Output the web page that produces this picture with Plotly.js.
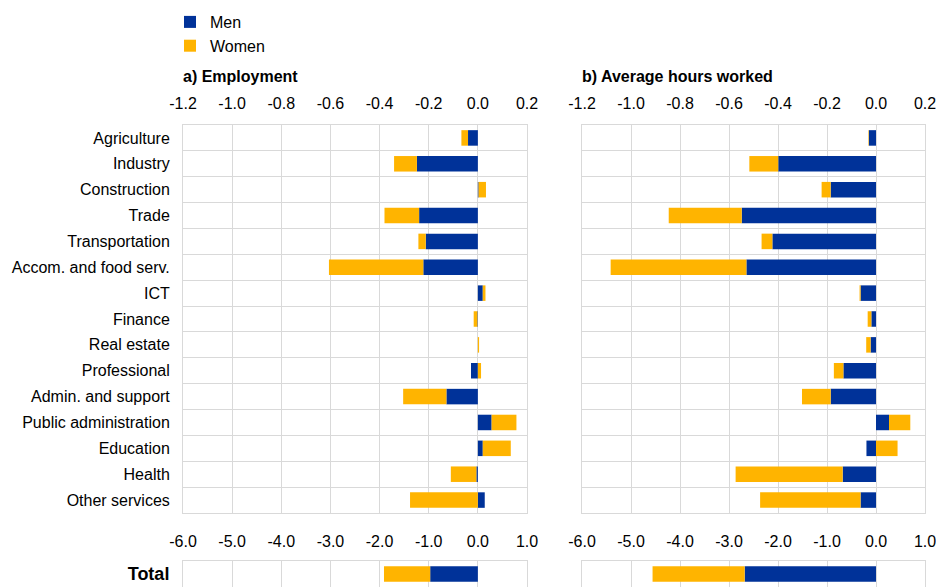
<!DOCTYPE html>
<html>
<head>
<meta charset="utf-8">
<script src="https://cdn.plot.ly/plotly-3.0.1.min.js"></script>
<style>html,body{margin:0;padding:0;background:#fff;}#chart{width:936px;height:587px;}</style>
</head>
<body>
<div id="chart"></div>
<script>
// Categories (sectors)
const sectors = ["Agriculture","Industry","Construction","Trade","Transportation","Accom. and food serv.","ICT","Finance","Real estate","Professional","Admin. and support","Public administration","Education","Health","Other services"];
// a) Employment, contributions (pp)
const empMen   = [-0.04,-0.248,0.003,-0.239,-0.212,-0.222,0.02,-0.002,0.0,-0.028,-0.128,0.056,0.02,-0.006,0.028];
const empWomen = [-0.027,-0.093,0.03,-0.141,-0.03,-0.384,0.011,-0.015,0.005,0.013,-0.176,0.101,0.114,-0.104,-0.276];
// b) Average hours worked, contributions (pp)
const hrsMen   = [-0.029,-0.399,-0.185,-0.548,-0.423,-0.529,-0.063,-0.019,-0.022,-0.133,-0.185,0.053,-0.039,-0.136,-0.063];
const hrsWomen = [-0.002,-0.118,-0.037,-0.298,-0.044,-0.554,-0.004,-0.015,-0.018,-0.039,-0.117,0.087,0.088,-0.437,-0.41];
// Totals
const totalCat = ["Total"];
const totEmpMen = [-0.97], totEmpWomen = [-0.94];
const totHrsMen = [-2.68], totHrsWomen = [-1.88];
// Tick labels
const sectorTickVals = [-1.2,-1.0,-0.8,-0.6,-0.4,-0.2,0.0,0.2];
const sectorTickText = ["-1.2","-1.0","-0.8","-0.6","-0.4","-0.2","0.0","0.2"];
const totalTickVals = [-6,-5,-4,-3,-2,-1,0,1];
const totalTickText = ["-6.0","-5.0","-4.0","-3.0","-2.0","-1.0","0.0","1.0"];
const colors = {Men:"#003299", Women:"#FFB400"};

function bar(x, y, name, xa, ya, show){
  return {type:"bar", orientation:"h", x:x, y:y, name:name, legendgroup:name, showlegend:show,
    marker:{color:colors[name], line:{width:0}}, xaxis:xa, yaxis:ya, hoverinfo:"x+y"};
}
const data = [
  bar(empMen, sectors, "Men", "x", "y", true),
  bar(empWomen, sectors, "Women", "x", "y", true),
  bar(hrsMen, sectors, "Men", "x2", "y2", false),
  bar(hrsWomen, sectors, "Women", "x2", "y2", false),
  bar(totEmpMen, totalCat, "Men", "x3", "y3", false),
  bar(totEmpWomen, totalCat, "Women", "x3", "y3", false),
  bar(totHrsMen, totalCat, "Men", "x4", "y4", false),
  bar(totHrsWomen, totalCat, "Women", "x4", "y4", false)
];
const W=936, H=587;
const grid = "#d9d9d9";
const FONT = "Liberation Sans, Arial, sans-serif";
const tickF = {family:FONT, size:16, color:"#000"};
function xax(dom, range, vals, text, anchor, standoff){
  return {domain:dom, range:range, tickmode:"array", tickvals:vals, ticktext:text, side:"top", anchor:anchor,
    showgrid:true, gridcolor:grid, gridwidth:1, zeroline:false, showline:true, mirror:true, linecolor:grid,
    ticks:"", tickfont:tickF, ticklabelstandoff:standoff, ticklabeloverflow:"allow", fixedrange:true};
}
function yax(dom, cats, anchor, labels){
  return {domain:dom, type:"category", categoryorder:"array", categoryarray:cats, autorange:"reversed",
    anchor:anchor, tickson:"boundaries", showgrid:true, gridcolor:grid, gridwidth:1, showline:true, mirror:true,
    linecolor:grid, ticks:"", showticklabels:labels, tickfont:tickF, ticklabelstandoff:9, fixedrange:true};
}
const xL=[183/W, 527/W], xR=[582/W, 925/W];
const yS=[(H-513)/H, (H-125)/H], yT=[0, (H-561)/H];
const layout = {
  width:W, height:H, margin:{l:0,r:0,t:0,b:0}, paper_bgcolor:"#fff", plot_bgcolor:"#fff",
  font:{family:FONT, size:16, color:"#000"},
  barmode:"relative", bargap:0.4,
  showlegend:true,
  legend:{x:170/W, y:1-5/H, xanchor:"left", yanchor:"top", orientation:"v", traceorder:"normal",
    font:{family:FONT, size:16, color:"#000"}, bgcolor:"rgba(0,0,0,0)", tracegroupgap:0},
  xaxis: xax(xL, [-1.2,0.2], sectorTickVals, sectorTickText, "y", 9),
  yaxis: yax(yS, sectors, "x", true),
  xaxis2: xax(xR, [-1.2,0.2], sectorTickVals, sectorTickText, "y2", 9),
  yaxis2: yax(yS, sectors, "x2", false),
  xaxis3: xax(xL, [-6,1], totalTickVals, totalTickText, "y3", 7),
  yaxis3: Object.assign(yax(yT, totalCat, "x3", true), {tickfont:{family:FONT, size:18, color:"#000"}, tickvals:["Total"], ticktext:["<b>Total</b>"]}),
  xaxis4: xax(xR, [-6,1], totalTickVals, totalTickText, "y4", 7),
  yaxis4: yax(yT, totalCat, "x4", false),
  annotations:[
    {text:"<b>a) Employment</b>", xref:"paper", yref:"paper", x:181/W, y:1-76/H, xanchor:"left", yanchor:"middle", showarrow:false, font:{family:FONT, size:16,color:"#000"}},
    {text:"<b>b) Average hours worked</b>", xref:"paper", yref:"paper", x:580/W, y:1-76/H, xanchor:"left", yanchor:"middle", showarrow:false, font:{family:FONT, size:16,color:"#000"}}
  ]
};
Plotly.newPlot("chart", data, layout, {displayModeBar:false, staticPlot:true});
</script>
</body>
</html>
